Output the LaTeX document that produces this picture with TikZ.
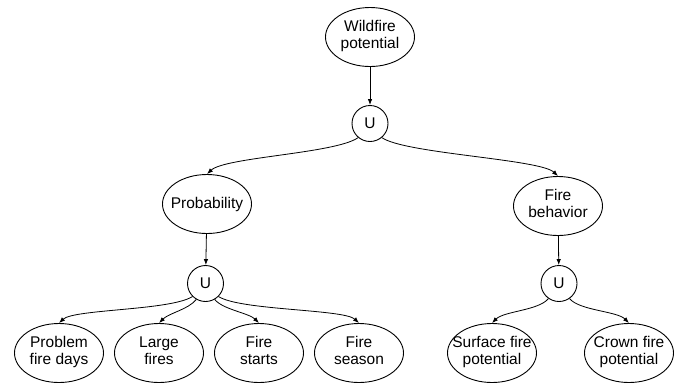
\documentclass[tikz,border=0pt]{standalone}
\usepackage{fontspec}
\setmainfont{Liberation Sans}
\usetikzlibrary{shapes.geometric,arrows.meta}
\newcommand{\twolines}[2]{\makebox[0pt][c]{\begin{tabular}{@{}c@{}}#1\\#2\end{tabular}}}
\begin{document}
\begin{tikzpicture}[x=1pt,y=-1pt,
  every node/.style={font=\fontsize{15.5}{17}\selectfont},
  oval/.style={ellipse,draw,line width=0.9pt,minimum width=89pt,minimum height=59pt,inner sep=0pt},
  unionnode/.style={circle,draw,line width=0.9pt,minimum size=36pt,inner sep=0pt},
  conn/.style={line width=0.8pt,-{Latex[length=6pt,width=4.5pt]}}]
\useasboundingbox (0,0) rectangle (681,384);
% nodes
\node[oval] (wp) at (370,37) {\twolines{Wildfire}{potential}};
\node[unionnode] (u0) at (370,123.5) {U};
\node[oval] (prob) at (207,204) {\makebox[0pt][c]{Probability}};
\node[oval] (fb) at (558,206) {\twolines{Fire}{behavior}};
\node[unionnode] (u1) at (205.5,283.5) {U};
\node[unionnode] (u2) at (559,283.5) {U};
\node[oval] (pfd) at (59,353) {\twolines{Problem}{fire days}};
\node[oval] (lf) at (159,353) {\twolines{Large}{fires}};
\node[oval] (fs) at (259,353) {\twolines{Fire}{starts}};
\node[oval] (fse) at (359,353) {\twolines{Fire}{season}};
\node[oval] (sfp) at (492,353) {\twolines{Surface fire}{potential}};
\node[oval] (cfp) at (629,353) {\twolines{Crown fire}{potential}};
% straight connectors
\draw[conn] (wp) -- (u0);
\draw[conn] (prob) -- (u1);
\draw[conn] (fb) -- (u2);
% curved connectors from top union
\draw[conn] (u0.230) .. controls +(-23,16) and +(18,-17) .. (prob.north);
\draw[conn] (u0.310) .. controls +(23,16) and +(-18,-17) .. (fb.north);
% left union
\draw[conn] (u1.225) .. controls +(-22,14) and +(15,-14) .. (pfd.north);
\draw[conn] (u1.240) .. controls +(-8,10) and +(10,-10) .. (lf.north);
\draw[conn] (u1.300) .. controls +(8,10) and +(-10,-10) .. (fs.north);
\draw[conn] (u1.315) .. controls +(22,14) and +(-15,-14) .. (fse.north);
% right union
\draw[conn] (u2.235) .. controls +(-10,12) and +(12,-12) .. (sfp.north);
\draw[conn] (u2.305) .. controls +(10,12) and +(-12,-12) .. (cfp.north);
\end{tikzpicture}
\end{document}
